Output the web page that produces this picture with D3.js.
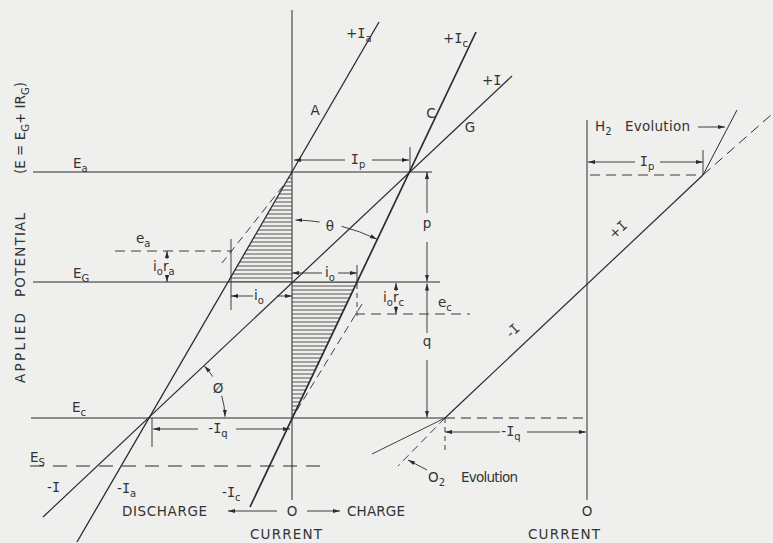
<!DOCTYPE html>
<html>
<head>
<meta charset="utf-8">
<script src="https://cdn.jsdelivr.net/npm/d3@7"></script>
<style>
    body { margin: 0; background: #efefed; }
    svg { display: block; }
    text { font-family: "DejaVu Sans", sans-serif; font-size: 13.5px; fill: #333; }
    text .mono, text.mono { font-family: "DejaVu Sans Mono", monospace; }
</style>
</head>
<body>
<svg id="chart" width="773" height="543"></svg>
<script>
// potential levels, E_G taken as zero (units: tenths of a grid step)
const levelNames = ["E_a", "E_G", "E_c", "E_s"];
const levelValues = [11, 0, -13.6, -18.4];
const levelFrom = [-25.9, -25.9, -26.1, -26.2];
const levelTo = [14.0, 14.8, 15.3, 3.3];

// left diagram, current measured from its own zero
const anodeLine = [[-21.5, -26], [8.7, 26]];        // A
const cathodeLine = [[-4.2, -22.5], [18.4, 25]];    // C
const cellLine = [[-24.9, -23.5], [22.0, 20.6]];    // G
const anodeIdeal = [[-0.9, 9.6], [-7.0, 1.9]];
const cathodeIdeal = [[7.0, -2.2], [0.2, -13.3]];
const hatchAnode = [[0, 11], [-6.4, 0], [0, 0]];
const hatchCathode = [[0, 0], [6.5, 0], [0, -13.6]];
const eaLevel = 3.1, ecLevel = -3.2;
const thetaDeg = 25.4;   // C line from the vertical
const phiDeg = 43.2;     // G line from the horizontal

// right diagram (H2 / O2 evolution)
const rightLine = [[-14.2, -13.6], [11.6, 10.7]];
const h2Line = [[11.6, 10.7], [15.0, 17.2]];
const h2Ideal = [[11.6, 10.7], [18.4, 16.7]];
const o2Line = [[-14.2, -13.6], [-21.5, -17.2]];
const o2Ideal = [[-14.2, -13.6], [-18.9, -18.4]];

const ink = "#2b2b2b";
const svg = d3.select("#chart");

let y = d3.scaleLinear().domain([0, 10]).range([282, 182]);
let xL = d3.scaleLinear().domain([0, 10]).range([292, 392]);
let xR = d3.scaleLinear().domain([0, 10]).range([587, 687]);

svg.append("rect").attr("width", 773).attr("height", 543).attr("fill", "#efefed");

let defs = svg.append("defs");
defs.append("marker")
    .attr("id", "arr")
    .attr("viewBox", "0 0 10 10")
    .attr("refX", 10).attr("refY", 5)
    .attr("markerWidth", 7).attr("markerHeight", 7)
    .attr("markerUnits", "userSpaceOnUse")
    .attr("orient", "auto")
    .append("path").attr("d", "M0,2 L10,5 L0,8 z").attr("fill", ink);
let pat = defs.append("pattern")
    .attr("id", "hatch")
    .attr("patternUnits", "userSpaceOnUse")
    .attr("width", 8).attr("height", 4);
pat.append("line")
    .attr("x1", 0).attr("x2", 8).attr("y1", 2).attr("y2", 2)
    .attr("stroke", ink).attr("stroke-width", 0.8);

function path(xs, pts) {
    return d3.line().x(d => xs(d[0])).y(d => y(d[1]))(pts);
}

function draw(xs, pts, w, dash) {
    let p = svg.append("path")
        .attr("d", path(xs, pts))
        .attr("fill", "none")
        .attr("stroke", ink)
        .attr("stroke-width", w || 1);
    if (dash) p.attr("stroke-dasharray", dash);
    return p;
}

// line with an arrow head at its second point
function arrow(xs, from, to) {
    return draw(xs, [from, to], 0.9).attr("marker-end", "url(#arr)");
}

// "+I_{a}" style labels: I in a serif face, _{..} as subscript
function label(px, py, str, anchor) {
    let t = svg.append("text").attr("x", px).attr("y", py).attr("text-anchor", anchor || "start");
    let low = false;
    str.split(/(_\{[^}]*\}|I)/).filter(s => s.length).forEach(s => {
        let sp = t.append("tspan");
        if (s[0] === "_" && s[1] === "{") {
            sp.text(s.slice(2, -1)).attr("font-size", 10).attr("dy", low ? 0 : 4);
            low = true;
        } else {
            sp.text(s).attr("dy", low ? -4 : 0);
            low = false;
            if (s === "I") sp.attr("class", "mono");
        }
    });
    return t;
}

function plain(px, py, str, len, anchor) {
    let t = svg.append("text").attr("x", px).attr("y", py)
        .attr("text-anchor", anchor || "start").text(str);
    if (len) t.attr("textLength", len).attr("lengthAdjust", "spacing");
    return t;
}

function arc(cx, cy, r, a0, a1, ccw) {
    let p = d3.path();
    p.arc(cx, cy, r, a0, a1, ccw);
    return svg.append("path").attr("d", p.toString())
        .attr("fill", "none").attr("stroke", ink).attr("stroke-width", 0.9)
        .attr("marker-end", "url(#arr)");
}

// ---- hatched areas
[hatchAnode, hatchCathode].forEach(h => {
    svg.append("path").attr("d", path(xL, h) + "Z").attr("fill", "url(#hatch)");
});

// ---- axes
draw(xL, [[0, 27.2], [0, -21.8]], 1);
draw(xR, [[0, 16.2], [0, -21.8]], 1);

// ---- potential levels
levelNames.forEach((n, i) => {
    draw(xL, [[levelFrom[i], levelValues[i]], [levelTo[i], levelValues[i]]], 1,
        n === "E_s" ? "14,9" : null);
});
draw(xR, [[-14.2, levelValues[2]], [0, levelValues[2]]], 1, "10,6");

// ---- polarisation lines
draw(xL, anodeLine, 1.3);
draw(xL, cathodeLine, 1.7);
draw(xL, cellLine, 1.2);
draw(xL, anodeIdeal, 0.9, "8,5");
draw(xL, cathodeIdeal, 0.9, "8,5");

draw(xR, rightLine, 1.2);
draw(xR, h2Line, 1);
draw(xR, h2Ideal, 1, "10,6");
draw(xR, o2Line, 0.9);
draw(xR, o2Ideal, 0.9, "8,5");

// ---- e_a, e_c construction
draw(xL, [[-17.7, eaLevel], [-6.0, eaLevel]], 0.9, "10,6");
draw(xL, [[-6.1, 4.3], [-6.1, -2.8]], 0.9);
draw(xL, [[6.3, ecLevel], [17.8, ecLevel]], 0.9, "10,6");
draw(xL, [[6.5, 1.7], [6.5, -0.2]], 0.9);
draw(xL, [[6.5, -0.2], [6.5, -3.6]], 0.9, "5,4");

arrow(xL, [-12.5, 2.3], [-12.5, eaLevel]);
arrow(xL, [-12.5, 0.7], [-12.5, 0]);
arrow(xL, [10.4, -0.9], [10.4, -0.1]);
arrow(xL, [10.4, -2.4], [10.4, ecLevel]);

// ---- dimension lines, left
arrow(xL, [5.3, 12.2], [0.2, 12.2]);
arrow(xL, [8.0, 12.2], [11.7, 12.2]);
draw(xL, [[11.8, 13.5], [11.8, 11]], 0.9);

arrow(xL, [13.5, 6.9], [13.5, 11.0]);
arrow(xL, [13.5, 4.0], [13.5, 0.05]);
arrow(xL, [13.5, -5.1], [13.5, -0.15]);
arrow(xL, [13.5, -7.8], [13.5, -13.55]);

arrow(xL, [-3.9, -1.4], [-6.1, -1.4]);
arrow(xL, [-1.5, -1.4], [0, -1.4]);
arrow(xL, [3.0, 0.9], [0, 0.9]);
arrow(xL, [4.6, 0.9], [6.5, 0.9]);

arrow(xL, [-9.4, -14.7], [-13.9, -14.7]);
arrow(xL, [-5.6, -14.7], [-0.2, -14.7]);
draw(xL, [[-14.0, -13.6], [-14.0, -16.5]], 0.9);

arrow(xL, [-1.5, -22.9], [-6.4, -22.9]);
arrow(xL, [1.5, -22.9], [4.8, -22.9]);

// ---- dimension lines, right
arrow(xR, [4.8, 12.0], [0.1, 12.0]);
arrow(xR, [7.3, 12.0], [11.6, 12.0]);
draw(xR, [[11.6, 13.2], [11.6, 10.7]], 0.9);
draw(xR, [[0.3, 10.7], [11.6, 10.7]], 0.9, "10,6");
arrow(xR, [11.1, 15.5], [13.8, 15.5]);

arrow(xR, [-8.7, -15.0], [-14.2, -15.0]);
arrow(xR, [-6.0, -15.0], [-0.1, -15.0]);
draw(xR, [[-14.2, -13.6], [-14.2, -17.1]], 0.9, "5,4");
arrow(xR, [-16.0, -18.8], [-17.9, -17.8]);

// ---- angle arcs
const rad = Math.PI / 180;
let tcx = xL(0), tcy = y(levelValues[2]), tr = xL(19.8) - xL(0);
arc(tcx, tcy, tr, (-90 + 8) * rad, (-90 + 1) * rad, true);
arc(tcx, tcy, tr, (-90 + 14.5) * rad, (-90 + thetaDeg) * rad, false);
let pcx = xL(-14.3), pcy = y(levelValues[2]), pr = xL(7.6) - xL(0);
arc(pcx, pcy, pr, -33 * rad, -phiDeg * rad, true);
arc(pcx, pcy, pr, -17 * rad, -1 * rad, false);

// ---- labels, left diagram
label(xL(5.4), y(24.4), "+I_{a}");
plain(xL(2.3), y(16.7), "A", null, "middle");
label(xL(15.1), y(23.9), "+I_{c}");
plain(xL(13.9), y(16.4), "C", null, "middle");
label(xL(19.0), y(19.7), "+I");
plain(xL(17.8), y(15.0), "G", null, "middle");

label(xL(-21.9), y(11.4), "E_{a}");
label(xL(-21.9), y(0.4), "E_{G}");
label(xL(-22.0), y(-13.0), "E_{c}");
label(xL(-26.2), y(-18.0), "E_{S}");

label(xL(-24.5), y(-21.0), "-I");
label(xL(-17.5), y(-21.1), "-I_{a}");
label(xL(-7.0), y(-21.5), "-I_{c}");

plain(xL(-17.0), y(-23.4), "DISCHARGE", 85);
plain(xL(0), y(-23.4), "O", null, "middle");
plain(xL(5.5), y(-23.4), "CHARGE", 58);
plain(xL(-0.6), y(-25.7), "CURRENT", 72, "middle");

label(xL(-15.6), y(3.9), "e_{a}");
label(xL(-13.9), y(1.1), "i_{o}r_{a}");
label(xL(-3.3), y(-1.8), "i_{o}", "middle");
label(xL(3.8), y(0.5), "i_{o}", "middle");
plain(xL(3.8), y(5.1), "θ", null, "middle");
plain(xL(13.5), y(5.4), "p", null, "middle");
plain(xL(13.5), y(-6.4), "q", null, "middle");
label(xL(6.6), y(11.8), "I_{p}", "middle");
label(xL(9.1), y(-2.0), "i_{o}r_{c}");
label(xL(14.6), y(-2.5), "e_{c}");
label(xL(-7.4), y(-15.1), "-I_{q}", "middle");
plain(xL(-7.4), y(-11.1), "Ø", null, "middle");

// rotated axis title
[["(E = E_{G}+ IR_{G})", 15.4, 109], ["POTENTIAL", 2.7, 84], ["APPLIED", -6.6, 70]].forEach(d => {
    let t = svg.append("text")
        .attr("transform", "translate(" + xL(-26.7) + "," + y(d[1]) + ") rotate(-90)")
        .attr("text-anchor", "middle");
    if (d[0].indexOf("_") < 0) {
        t.text(d[0]).attr("textLength", d[2]).attr("lengthAdjust", "spacing");
    } else {
        let low = false;
        d[0].split(/(_\{[^}]*\})/).filter(s => s.length).forEach(s => {
            let sp = t.append("tspan");
            if (s[0] === "_") {
                sp.text(s.slice(2, -1)).attr("font-size", 10).attr("dy", 4);
                low = true;
            } else {
                sp.text(s).attr("dy", low ? -4 : 0);
                low = false;
            }
        });
    }
});

// ---- labels, right diagram
label(xR(0.8), y(15.1), "H_{2}");
plain(xR(3.8), y(15.1), "Evolution", 65);
label(xR(6.0), y(11.6), "I_{p}", "middle");
label(0, 0, "+I", "middle").attr("transform", "translate(" + xR(3.4) + "," + y(4.9) + ") rotate(-43)");
label(0, 0, "-I", "middle").attr("transform", "translate(" + xR(-7.1) + "," + y(-5.2) + ") rotate(-43)");
label(xR(-7.6), y(-15.4), "-I_{q}", "middle");
label(xR(-15.9), y(-20.0), "O_{2}");
plain(xR(-12.6), y(-20.0), "Evolution", 57);
plain(xR(0), y(-23.4), "O", null, "middle");
plain(xR(-2.3), y(-25.7), "CURRENT", 72, "middle");
</script>
</body>
</html>
